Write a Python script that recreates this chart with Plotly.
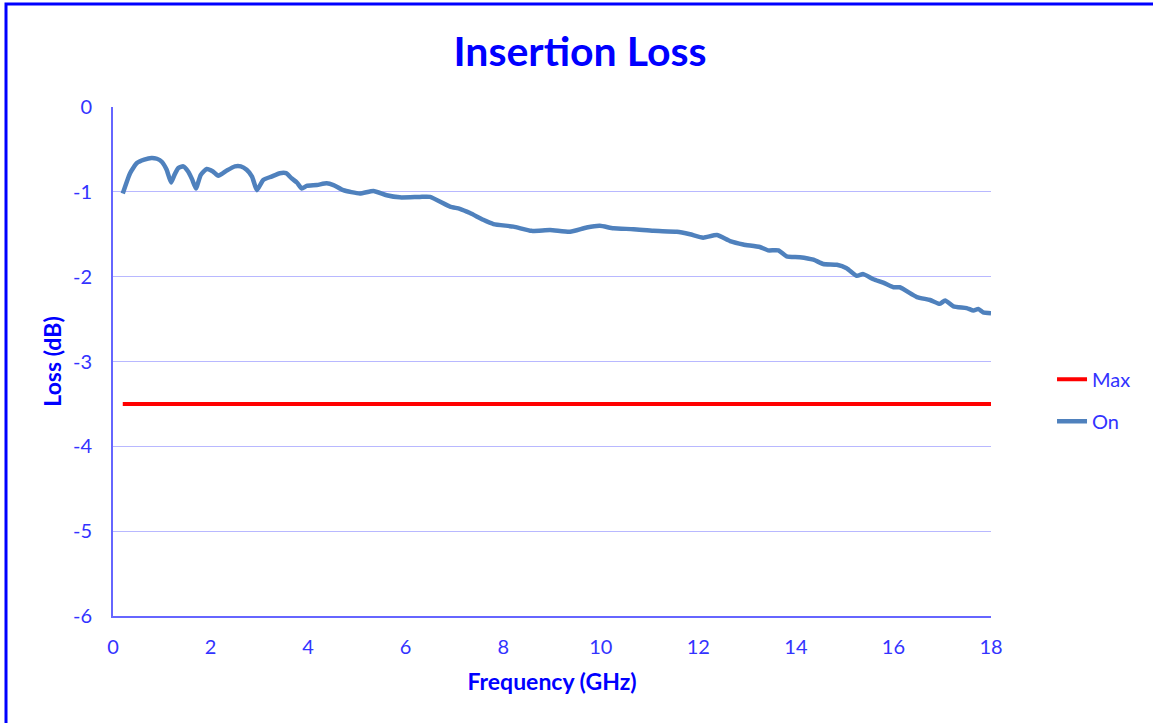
import plotly.graph_objects as go

# ---- data ----
freq_on = [0.2, 0.35, 0.49, 0.64, 0.79, 0.9, 1.0, 1.1, 1.19, 1.26, 1.34, 1.44, 1.54, 1.62, 1.70,
           1.80, 1.92, 2.05, 2.16, 2.33, 2.50, 2.62, 2.74, 2.85, 2.95, 3.08, 3.25, 3.42, 3.55,
           3.66, 3.77, 3.87, 3.97, 4.18, 4.38, 4.52, 4.72, 5.06, 5.34, 5.61, 5.88, 6.29, 6.50,
           6.91, 7.11, 7.32, 7.59, 7.80, 8.21, 8.58, 8.96, 9.37, 9.71, 9.98, 10.26, 10.67, 11.08,
           11.56, 11.83, 12.10, 12.38, 12.65, 12.92, 13.26, 13.43, 13.64, 13.81, 14.08, 14.36,
           14.56, 14.84, 15.04, 15.25, 15.38, 15.59, 15.79, 16.0, 16.13, 16.48, 16.75, 16.95,
           17.06, 17.23, 17.50, 17.64, 17.74, 17.84, 18.0]
loss_on = [-1.02, -0.78, -0.66, -0.62, -0.60, -0.61, -0.645, -0.74, -0.89, -0.80, -0.72, -0.70,
           -0.76, -0.85, -0.96, -0.80, -0.73, -0.76, -0.81, -0.75, -0.70, -0.70, -0.74, -0.82,
           -0.98, -0.86, -0.82, -0.78, -0.78, -0.84, -0.89, -0.96, -0.93, -0.92, -0.90, -0.92,
           -0.98, -1.02, -0.99, -1.04, -1.065, -1.06, -1.06, -1.175, -1.20, -1.25, -1.33, -1.38,
           -1.41, -1.46, -1.45, -1.47, -1.42, -1.40, -1.43, -1.44, -1.46, -1.47, -1.50, -1.54,
           -1.51, -1.58, -1.62, -1.65, -1.69, -1.69, -1.76, -1.77, -1.80, -1.85, -1.86, -1.90,
           -1.99, -1.97, -2.03, -2.07, -2.125, -2.125, -2.24, -2.275, -2.32, -2.28, -2.35, -2.37,
           -2.40, -2.38, -2.42, -2.43]
freq_max = [0.2, 18.0]
loss_max = [-3.5, -3.5]

x_ticks = [0, 2, 4, 6, 8, 10, 12, 14, 16, 18]
y_ticks = [0, -1, -2, -3, -4, -5, -6]

FONT = "Lato"
BLUE = "#0000FF"
TICK_BLUE = "#3333FF"

fig = go.Figure()
fig.add_trace(go.Scatter(x=freq_max, y=loss_max, mode="lines", name="Max",
                         legendgroup="a",
                         line=dict(color="#FF0000", width=4)))
fig.add_trace(go.Scatter(x=freq_on, y=loss_on, mode="lines", name="On",
                         legendgroup="b",
                         line=dict(color="#4F81BD", width=4.5, shape="spline", smoothing=0.5)))

fig.update_layout(
    width=1153, height=723,
    margin=dict(l=113, r=162, t=107, b=107),
    paper_bgcolor="white", plot_bgcolor="white",
    font=dict(family=FONT, color=TICK_BLUE, size=20),
    title=dict(text="<b>Insertion Loss</b>", x=580 / 1153, xanchor="center",
               y=1 - 52 / 723, yanchor="middle", xref="container", yref="container",
               font=dict(family=FONT, size=41, color=BLUE)),
    legend=dict(x=1.0695, xanchor="left", y=0.424, yanchor="middle",
                font=dict(family=FONT, size=20, color=TICK_BLUE),
                traceorder="grouped", tracegroupgap=13,
                bgcolor="rgba(0,0,0,0)"),
    xaxis=dict(range=[0, 18], tickvals=x_ticks, ticktext=[str(v) for v in x_ticks],
               showgrid=False, zeroline=False, showline=True, linecolor="#6666FF",
               linewidth=2, ticks="", ticklabelstandoff=12,
               tickfont=dict(family=FONT, size=20, color=TICK_BLUE),
               title=dict(text="<b>Frequency (GHz)</b>", standoff=17,
                          font=dict(family=FONT, size=23, color=BLUE))),
    yaxis=dict(range=[-6, 0], tickvals=y_ticks, ticktext=[str(v) for v in y_ticks],
               showgrid=True, gridcolor="#B8B8FF", gridwidth=1, zeroline=False,
               showline=True, linecolor="#6666FF", linewidth=2, ticks="",
               ticklabelstandoff=15,
               tickfont=dict(family=FONT, size=20, color=TICK_BLUE),
               title=dict(text="<b>Loss (dB)</b>", standoff=5,
                          font=dict(family=FONT, size=23, color=BLUE))),
)

# outer frame (partially clipped like the reference)
pw, ph = 878.0, 509.0
fig.add_shape(type="rect", xref="paper", yref="paper",
              x0=(6 - 113) / pw, x1=(1160 - 113) / pw,
              y0=(616 - 730) / ph, y1=(616 - 4) / ph,
              line=dict(color=BLUE, width=3), fillcolor="rgba(0,0,0,0)", layer="below")

fig.write_html("out.html", config={"displayModeBar": False},
               post_script="document.body.style.margin='0px';")
